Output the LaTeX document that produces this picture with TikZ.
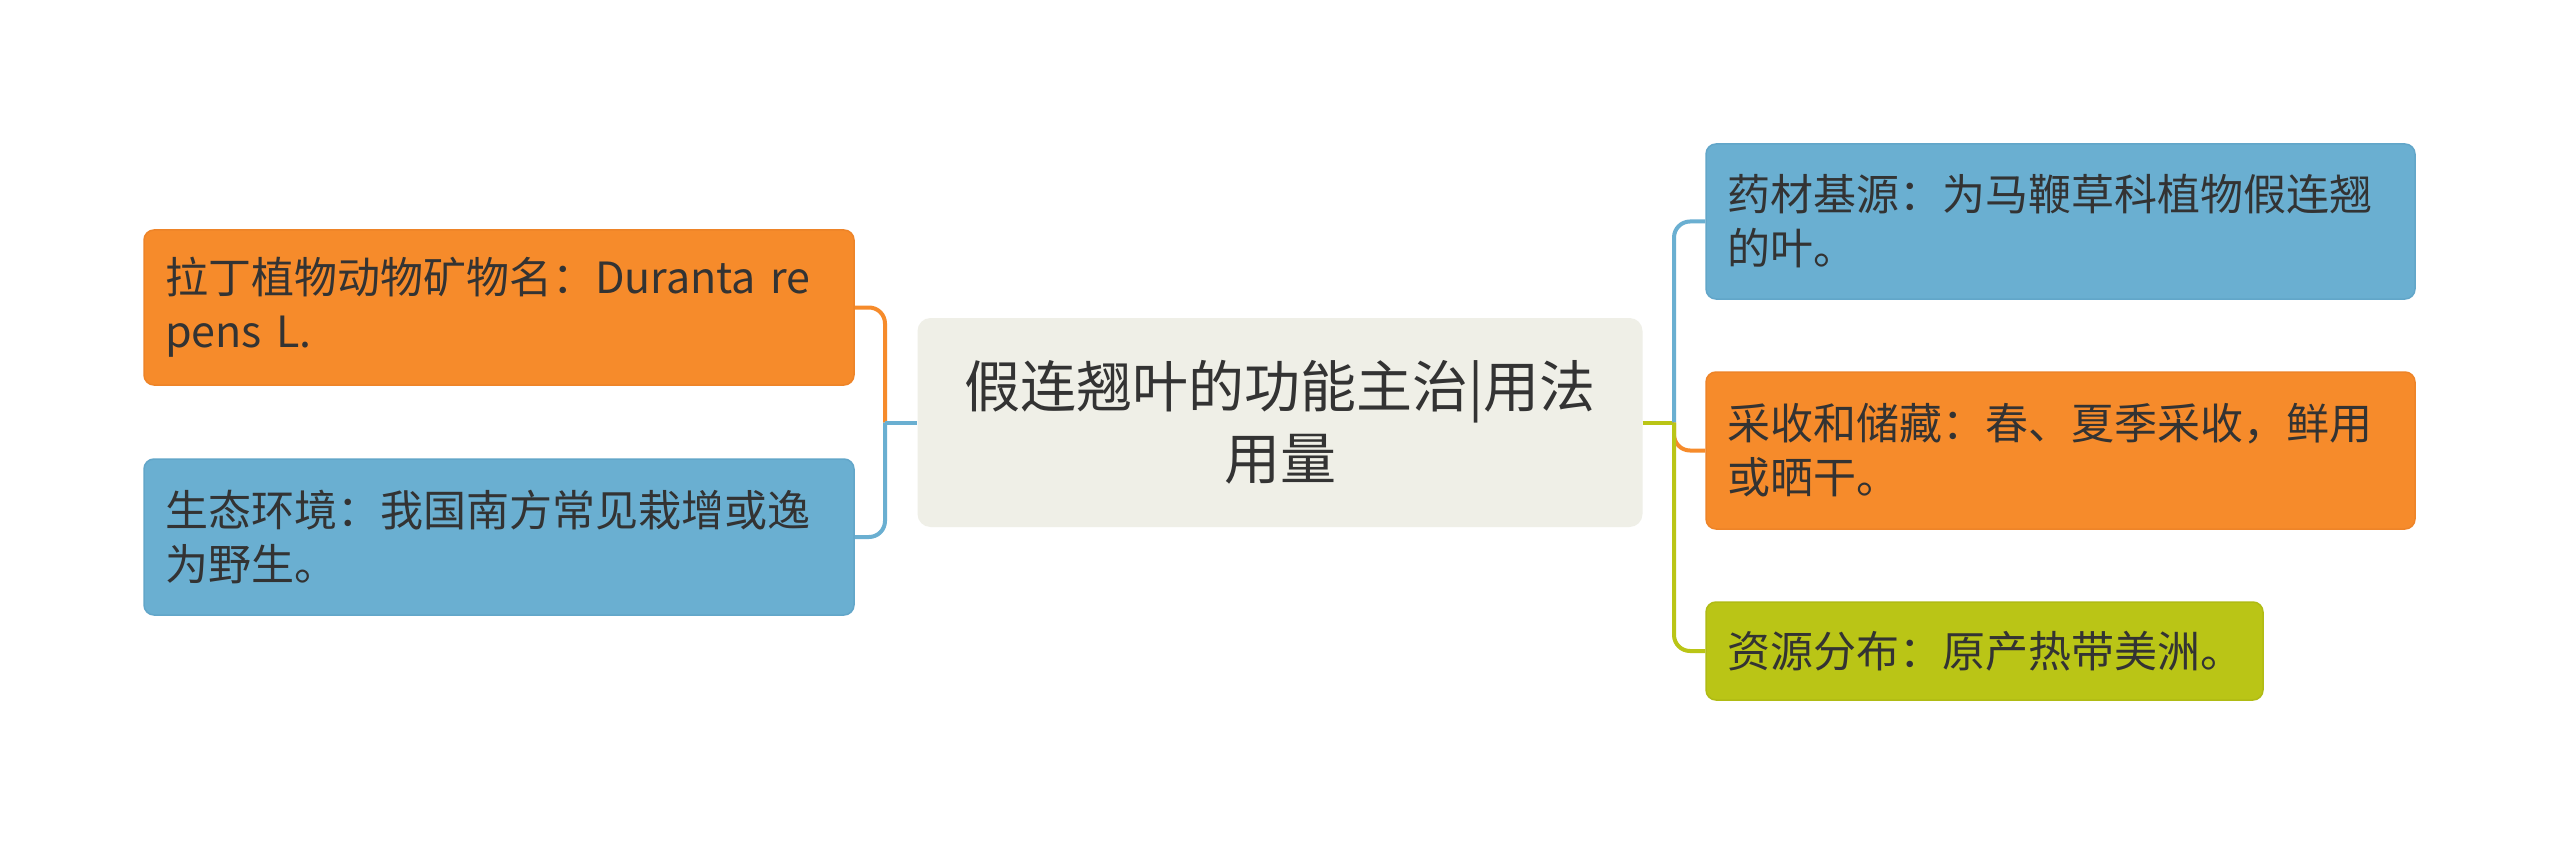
\documentclass[tikz,border=0pt]{standalone}
\usepackage{fontspec}
\setmainfont{Noto Sans CJK SC}
\definecolor{cOrange}{HTML}{F68B2B}
\definecolor{cOrangeB}{HTML}{EE8428}
\definecolor{cBlue}{HTML}{6AAFD1}
\definecolor{cBlueB}{HTML}{62A6C9}
\definecolor{cGreen}{HTML}{BAC516}
\definecolor{cGreenB}{HTML}{B0BB14}
\definecolor{cCenter}{HTML}{EFEFE7}
\definecolor{cText}{HTML}{333333}
\begin{document}
\begin{tikzpicture}[x=1pt,y=-1pt,
  leaf/.style={rounded corners=10pt, inner xsep=21pt, inner ysep=0pt, align=left,
    font=\fontsize{43}{54}\selectfont, text=cText, line width=1.5pt, anchor=center},
  centerbox/.style={rounded corners=13pt, fill=cCenter, inner sep=0pt, align=center,
    font=\fontsize{56}{72}\selectfont, text=cText, anchor=center},
  conn/.style={line width=4pt, rounded corners=16pt}
]
\useasboundingbox (0,0) rectangle (2560,845);
\fill[white] (0,0) rectangle (2560,845);

\node[centerbox, minimum width=725pt, minimum height=209pt] (C) at (1280,422.5)
  {假连翘叶的功能主治|用法\\用量};

\node[leaf, fill=cOrange, draw=cOrangeB, text width=668pt, minimum width=710pt, minimum height=155pt] (L1) at (499,307.5)
  {拉丁植物动物矿物名：Duranta re\\pens L.};
\node[leaf, fill=cBlue, draw=cBlueB, text width=668pt, minimum width=710pt, minimum height=156pt] (L2) at (499,537)
  {生态环境：我国南方常见栽增或逸\\为野生。};

\node[leaf, fill=cBlue, draw=cBlueB, text width=667pt, minimum width=709pt, minimum height=155pt] (R1) at (2060.5,221.5)
  {药材基源：为马鞭草科植物假连翘\\的叶。};
\node[leaf, fill=cOrange, draw=cOrangeB, text width=667pt, minimum width=709pt, minimum height=157pt] (R2) at (2060.5,450.5)
  {采收和储藏：春、夏季采收，鲜用\\或晒干。};
\node[leaf, fill=cGreen, draw=cGreenB, text width=515pt, minimum width=557pt, minimum height=98pt] (R3) at (1984.5,651)
  {资源分布：原产热带美洲。};

\coordinate (lj) at (885,422.5);
\coordinate (rj) at (1674,422.5);

\draw[conn, cOrange] (L1.east) -| (lj);
\draw[conn, cBlue] (L2.east) -| (lj);
\draw[line width=4pt, cBlue] (lj) -- (C.west);

\draw[line width=4pt, cGreen] (C.east) -- (rj);
\draw[conn, cBlue] (R1.west) -| (rj);
\draw[conn, cOrange] (R2.west) -| (rj);
\draw[conn, cGreen] (R3.west) -| (rj);
\end{tikzpicture}
\end{document}
